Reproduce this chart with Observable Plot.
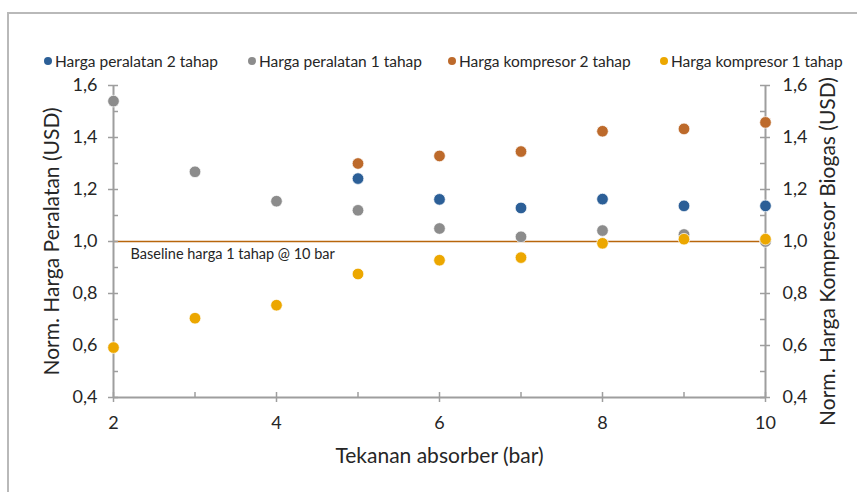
<!DOCTYPE html>
<html>
<head>
<meta charset="utf-8">
<script src="https://cdn.jsdelivr.net/npm/d3@7"></script>
<script src="https://cdn.jsdelivr.net/npm/@observablehq/plot@0.6"></script>
<style>
  body { margin: 0; background: #fff; }
  #wrap { position: relative; width: 857px; height: 492px; overflow: hidden; font-family: Lato, "DejaVu Sans Condensed", sans-serif; color: #262626; }
  #frame { position: absolute; left: 7px; top: 12px; width: 900px; height: 520px; border-left: 2px solid #b9b9b9; border-top: 2px solid #b9b9b9; }
  #chart { position: absolute; left: 0; top: 0; }
  .leg { position: absolute; top: 52px; font-size: 15.5px; white-space: nowrap; display: flex; align-items: center; }
  .leg i { display: inline-block; width: 8px; height: 8px; border-radius: 50%; margin-right: 3px; }
</style>
</head>
<body>
<div id="wrap">
  <div id="frame"></div>
  <div id="chart"></div>
</div>
<script>
// ---- data ----
const pressures1 = [2, 3, 4, 5, 6, 7, 8, 9, 10];
const pressures2 = [5, 6, 7, 8, 9, 10];
const hargaPeralatan2 = [1.242, 1.162, 1.129, 1.163, 1.137, 1.137];
const hargaPeralatan1 = [1.54, 1.268, 1.155, 1.12, 1.05, 1.018, 1.042, 1.027, 1.0];
const hargaKompresor2 = [1.30, 1.329, 1.346, 1.424, 1.433, 1.458];
const hargaKompresor1 = [0.592, 0.705, 0.755, 0.875, 0.928, 0.938, 0.993, 1.009, 1.009];
const seriesNames = ["Harga peralatan 2 tahap", "Harga peralatan 1 tahap", "Harga kompresor 2 tahap", "Harga kompresor 1 tahap"];
const seriesColors = ["#2c5f97", "#8c8c8c", "#bd6a2b", "#eca700"];
const yMajorTicks = [0.4, 0.6, 0.8, 1.0, 1.2, 1.4, 1.6];
const yMinorTicks = [0.5, 0.7, 0.9, 1.1, 1.3, 1.5];
const xMajorTicks = [2, 4, 6, 8, 10];
const xMinorTicks = [3, 5, 7, 9];
const baselineValue = 1.0;
const baselineLabel = "Baseline harga 1 tahap @ 10 bar";
const xLabel = "Tekanan absorber (bar)";
const yLabelLeft = "Norm. Harga Peralatan (USD)";
const yLabelRight = "Norm. Harga Kompresor Biogas (USD)";

// ---- build table ----
const seriesX = [pressures2, pressures1, pressures2, pressures1];
const seriesY = [hargaPeralatan2, hargaPeralatan1, hargaKompresor2, hargaKompresor1];
const rows = seriesNames.flatMap((name, s) => seriesX[s].map((x, i) => ({x, y: seriesY[s][i], name})));

const fmt = d => d.toFixed(1).replace(".", ",");
const axisColor = "#9e9e9e";
const textColor = "#262626";

const chart = Plot.plot({
  width: 857,
  height: 492,
  marginLeft: 113,
  marginRight: 92,
  marginTop: 85,
  marginBottom: 95,
  style: {fontFamily: "Lato, sans-serif", color: textColor, background: "transparent"},
  x: {domain: [2, 10]},
  y: {domain: [0.4, 1.6]},
  color: {domain: seriesNames, range: seriesColors},
  marks: [
    // baseline
    Plot.ruleY([baselineValue], {x1: 2, x2: 10, stroke: "#b8660c", strokeWidth: 1.5}),
    Plot.text([baselineLabel], {x: 2, y: baselineValue, dx: 17, dy: 13, textAnchor: "start", fontSize: 14.5, fill: textColor}),
    // axis lines
    Plot.ruleX([2, 10], {y1: 0.4, y2: 1.6, stroke: axisColor, strokeWidth: 2}),
    Plot.ruleY([0.4], {x1: 2, x2: 10, stroke: axisColor, strokeWidth: 2}),
    // y ticks: major cross, minor inside
    Plot.ruleY(yMajorTicks, {x1: 2, x2: 2, insetLeft: -5, insetRight: -5, stroke: axisColor, strokeWidth: 1.5}),
    Plot.ruleY(yMinorTicks, {x1: 2, x2: 2, insetLeft: 0, insetRight: -5, stroke: axisColor, strokeWidth: 1.5}),
    Plot.ruleY(yMajorTicks, {x1: 10, x2: 10, insetLeft: -5, insetRight: -5, stroke: axisColor, strokeWidth: 1.5}),
    Plot.ruleY(yMinorTicks, {x1: 10, x2: 10, insetLeft: -5, insetRight: 0, stroke: axisColor, strokeWidth: 1.5}),
    // x ticks
    Plot.ruleX(xMajorTicks, {y1: 0.4, y2: 0.4, insetTop: -5, insetBottom: -5, stroke: axisColor, strokeWidth: 1.5}),
    Plot.ruleX(xMinorTicks, {y1: 0.4, y2: 0.4, insetTop: -5, insetBottom: 0, stroke: axisColor, strokeWidth: 1.5}),
    // tick labels
    Plot.axisY(yMajorTicks, {anchor: "left", tickSize: 0, tickPadding: 16, tickFormat: fmt, fontSize: 18, label: null}),
    Plot.axisY(yMajorTicks, {anchor: "right", tickSize: 0, tickPadding: 17, tickFormat: fmt, fontSize: 18, label: null}),
    Plot.axisX(xMajorTicks, {anchor: "bottom", tickSize: 0, tickPadding: 19, fontSize: 18, label: null}),
    // axis titles
    Plot.text([yLabelLeft], {frameAnchor: "left", dx: -61, rotate: -90, textAnchor: "middle", fontSize: 21, fill: textColor}),
    Plot.text([yLabelRight], {frameAnchor: "right", dx: 63, dy: 10, rotate: -90, textAnchor: "middle", fontSize: 21, fill: textColor}),
    Plot.text([xLabel], {frameAnchor: "bottom", dy: 65, fontSize: 21, fill: textColor}),
    // points
    Plot.dot(rows, {x: "x", y: "y", fill: "name", r: 5.8, stroke: "#ffffff", strokeOpacity: 0.7, strokeWidth: 1})
  ]
});
document.getElementById("chart").appendChild(chart);

// legend
const legendLeft = [44, 248, 448, 660];
const wrap = document.getElementById("wrap");
seriesNames.forEach((name, i) => {
  const d = document.createElement("div");
  d.className = "leg";
  d.style.left = legendLeft[i] + "px";
  d.innerHTML = `<i style="background:${seriesColors[i]}"></i><span>${name}</span>`;
  wrap.appendChild(d);
});
</script>
</body>
</html>
